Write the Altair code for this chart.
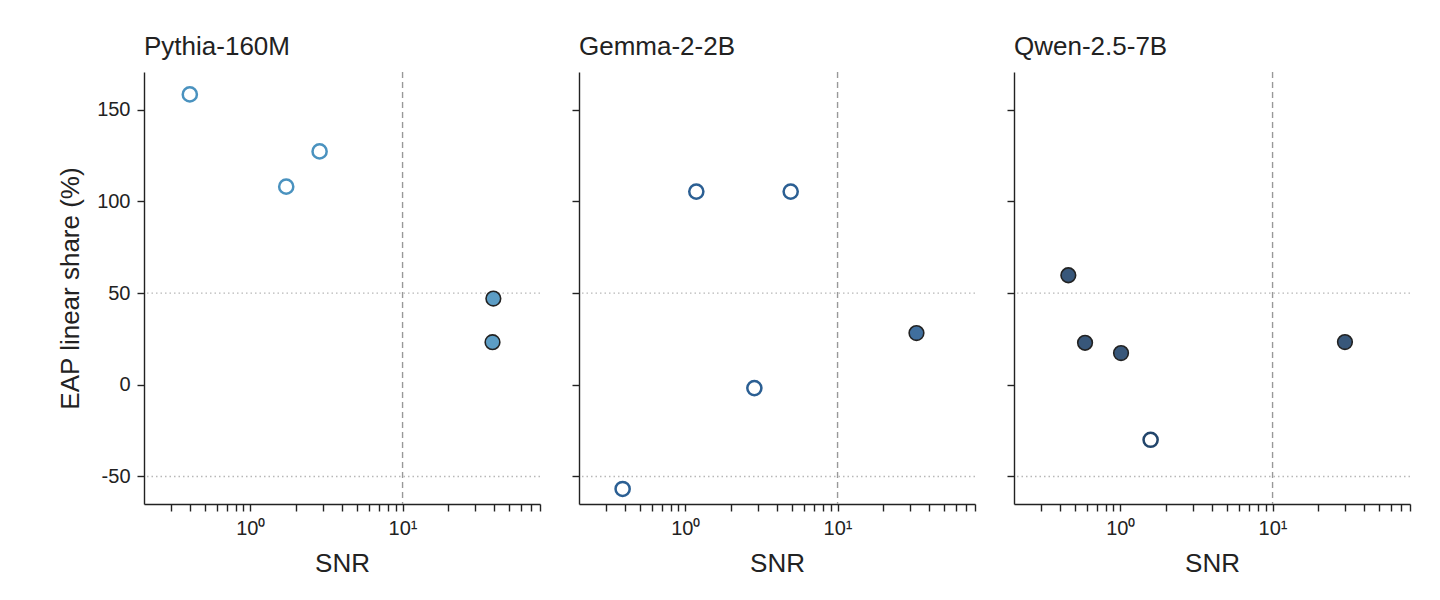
import altair as alt
import pandas as pd

models = ["Pythia-160M", "Gemma-2-2B", "Qwen-2.5-7B"]
colors = ["#4a92bf", "#2b5f93", "#22456b"]

pythia_snr = [0.40, 1.72, 2.85, 39.5, 39.0]
pythia_share = [158.3, 108.0, 127.2, 47.0, 23.2]
pythia_filled = [0, 0, 0, 1, 1]

gemma_snr = [0.387, 1.18, 4.92, 2.84, 33.0]
gemma_share = [-56.8, 105.3, 105.3, -1.8, 28.2]
gemma_filled = [0, 0, 0, 0, 1]

qwen_snr = [0.455, 0.586, 1.01, 29.9, 1.58]
qwen_share = [59.7, 22.9, 17.3, 23.3, -30.0]
qwen_filled = [1, 1, 1, 1, 0]

x_ticks = [0.3, 0.4, 0.5, 0.6, 0.7, 0.8, 0.9, 1, 2, 3, 4, 5, 6, 7, 8, 9, 10,
           20, 30, 40, 50, 60, 70, 80]
y_ticks = [-50, 0, 50, 100, 150]
snr_threshold = [10]
share_refs = [50, -50]

FONT = "Liberation Sans"
INK = "#222222"


def panel(name, snr, share, filled, color, show_y):
    df = pd.DataFrame({"snr": snr, "share": share, "filled": filled})
    x_enc = alt.X(
        "snr:Q",
        scale=alt.Scale(type="log", domain=[0.2, 80], nice=False),
        axis=alt.Axis(
            values=x_ticks,
            labelExpr="datum.value == 1 ? '10⁰' : (datum.value == 10 ? '10¹' : '')",
            title="SNR",
            grid=False,
            tickSize=7,
            labelFontSize=20,
            titleFontSize=26,
            titleFontWeight="normal",
            titlePadding=12,
            labelPadding=7,
            labelFlush=False,
            labelOverlap=False,
        ),
    )
    y_axis_kwargs = dict(
        values=y_ticks,
        grid=False,
        tickSize=7,
        labelFontSize=20,
        labelPadding=7,
        labelExpr="datum.value < 0 ? '-' + abs(datum.value) : '' + datum.value",
        titleFontSize=26,
        titleFontWeight="normal",
        titlePadding=13,
    )
    if show_y:
        y_axis = alt.Axis(title="EAP linear share (%)", **y_axis_kwargs)
    else:
        y_axis = alt.Axis(title="", labels=False, **y_axis_kwargs)
    y_enc = alt.Y(
        "share:Q",
        scale=alt.Scale(domain=[-65, 170.5], nice=False, zero=False),
        axis=y_axis,
    )

    vrule = (
        alt.Chart(pd.DataFrame({"snr": snr_threshold}))
        .mark_rule(color="#999999", strokeDash=[6, 4], strokeWidth=1.4)
        .encode(x=x_enc)
    )
    hrule = (
        alt.Chart(pd.DataFrame({"share": share_refs}))
        .mark_rule(color="#b8b8b8", strokeDash=[1.5, 3], strokeWidth=1.3)
        .encode(y=y_enc)
    )
    pts = (
        alt.Chart(df)
        .mark_point(shape="circle", opacity=1)
        .encode(
            x=x_enc,
            y=y_enc,
            size=alt.condition(alt.datum.filled == 1, alt.value(215), alt.value(200)),
            fill=alt.condition(alt.datum.filled == 1, alt.value(color), alt.value("white")),
            fillOpacity=alt.condition(alt.datum.filled == 1, alt.value(0.9), alt.value(1)),
            stroke=alt.condition(alt.datum.filled == 1, alt.value(INK), alt.value(color)),
            strokeWidth=alt.condition(alt.datum.filled == 1, alt.value(1.6), alt.value(2.5)),
        )
    )
    return alt.layer(vrule, hrule, pts).properties(
        width=396,
        height=432,
        title=alt.TitleParams(
            name, anchor="start", frame="group", fontSize=26, fontWeight="normal",
            font=FONT, color=INK, offset=11,
        ),
    )


chart = (
    alt.hconcat(
        panel(models[0], pythia_snr, pythia_share, pythia_filled, colors[0], True),
        panel(models[1], gemma_snr, gemma_share, gemma_filled, colors[1], False),
        panel(models[2], qwen_snr, qwen_share, qwen_filled, colors[2], False),
        spacing=30,
    )
    .properties(
        padding={"left": 49, "top": 26, "right": 5, "bottom": 5},
        background="white",
    )
    .configure_view(strokeWidth=0, stroke="transparent")
    .configure_axis(
        labelFont=FONT, titleFont=FONT, labelColor=INK, titleColor=INK,
        domainColor=INK, tickColor=INK, domainWidth=1.4, tickWidth=1.4,
    )
)

chart.save("out.html", embed_options={"renderer": "svg", "actions": False})
